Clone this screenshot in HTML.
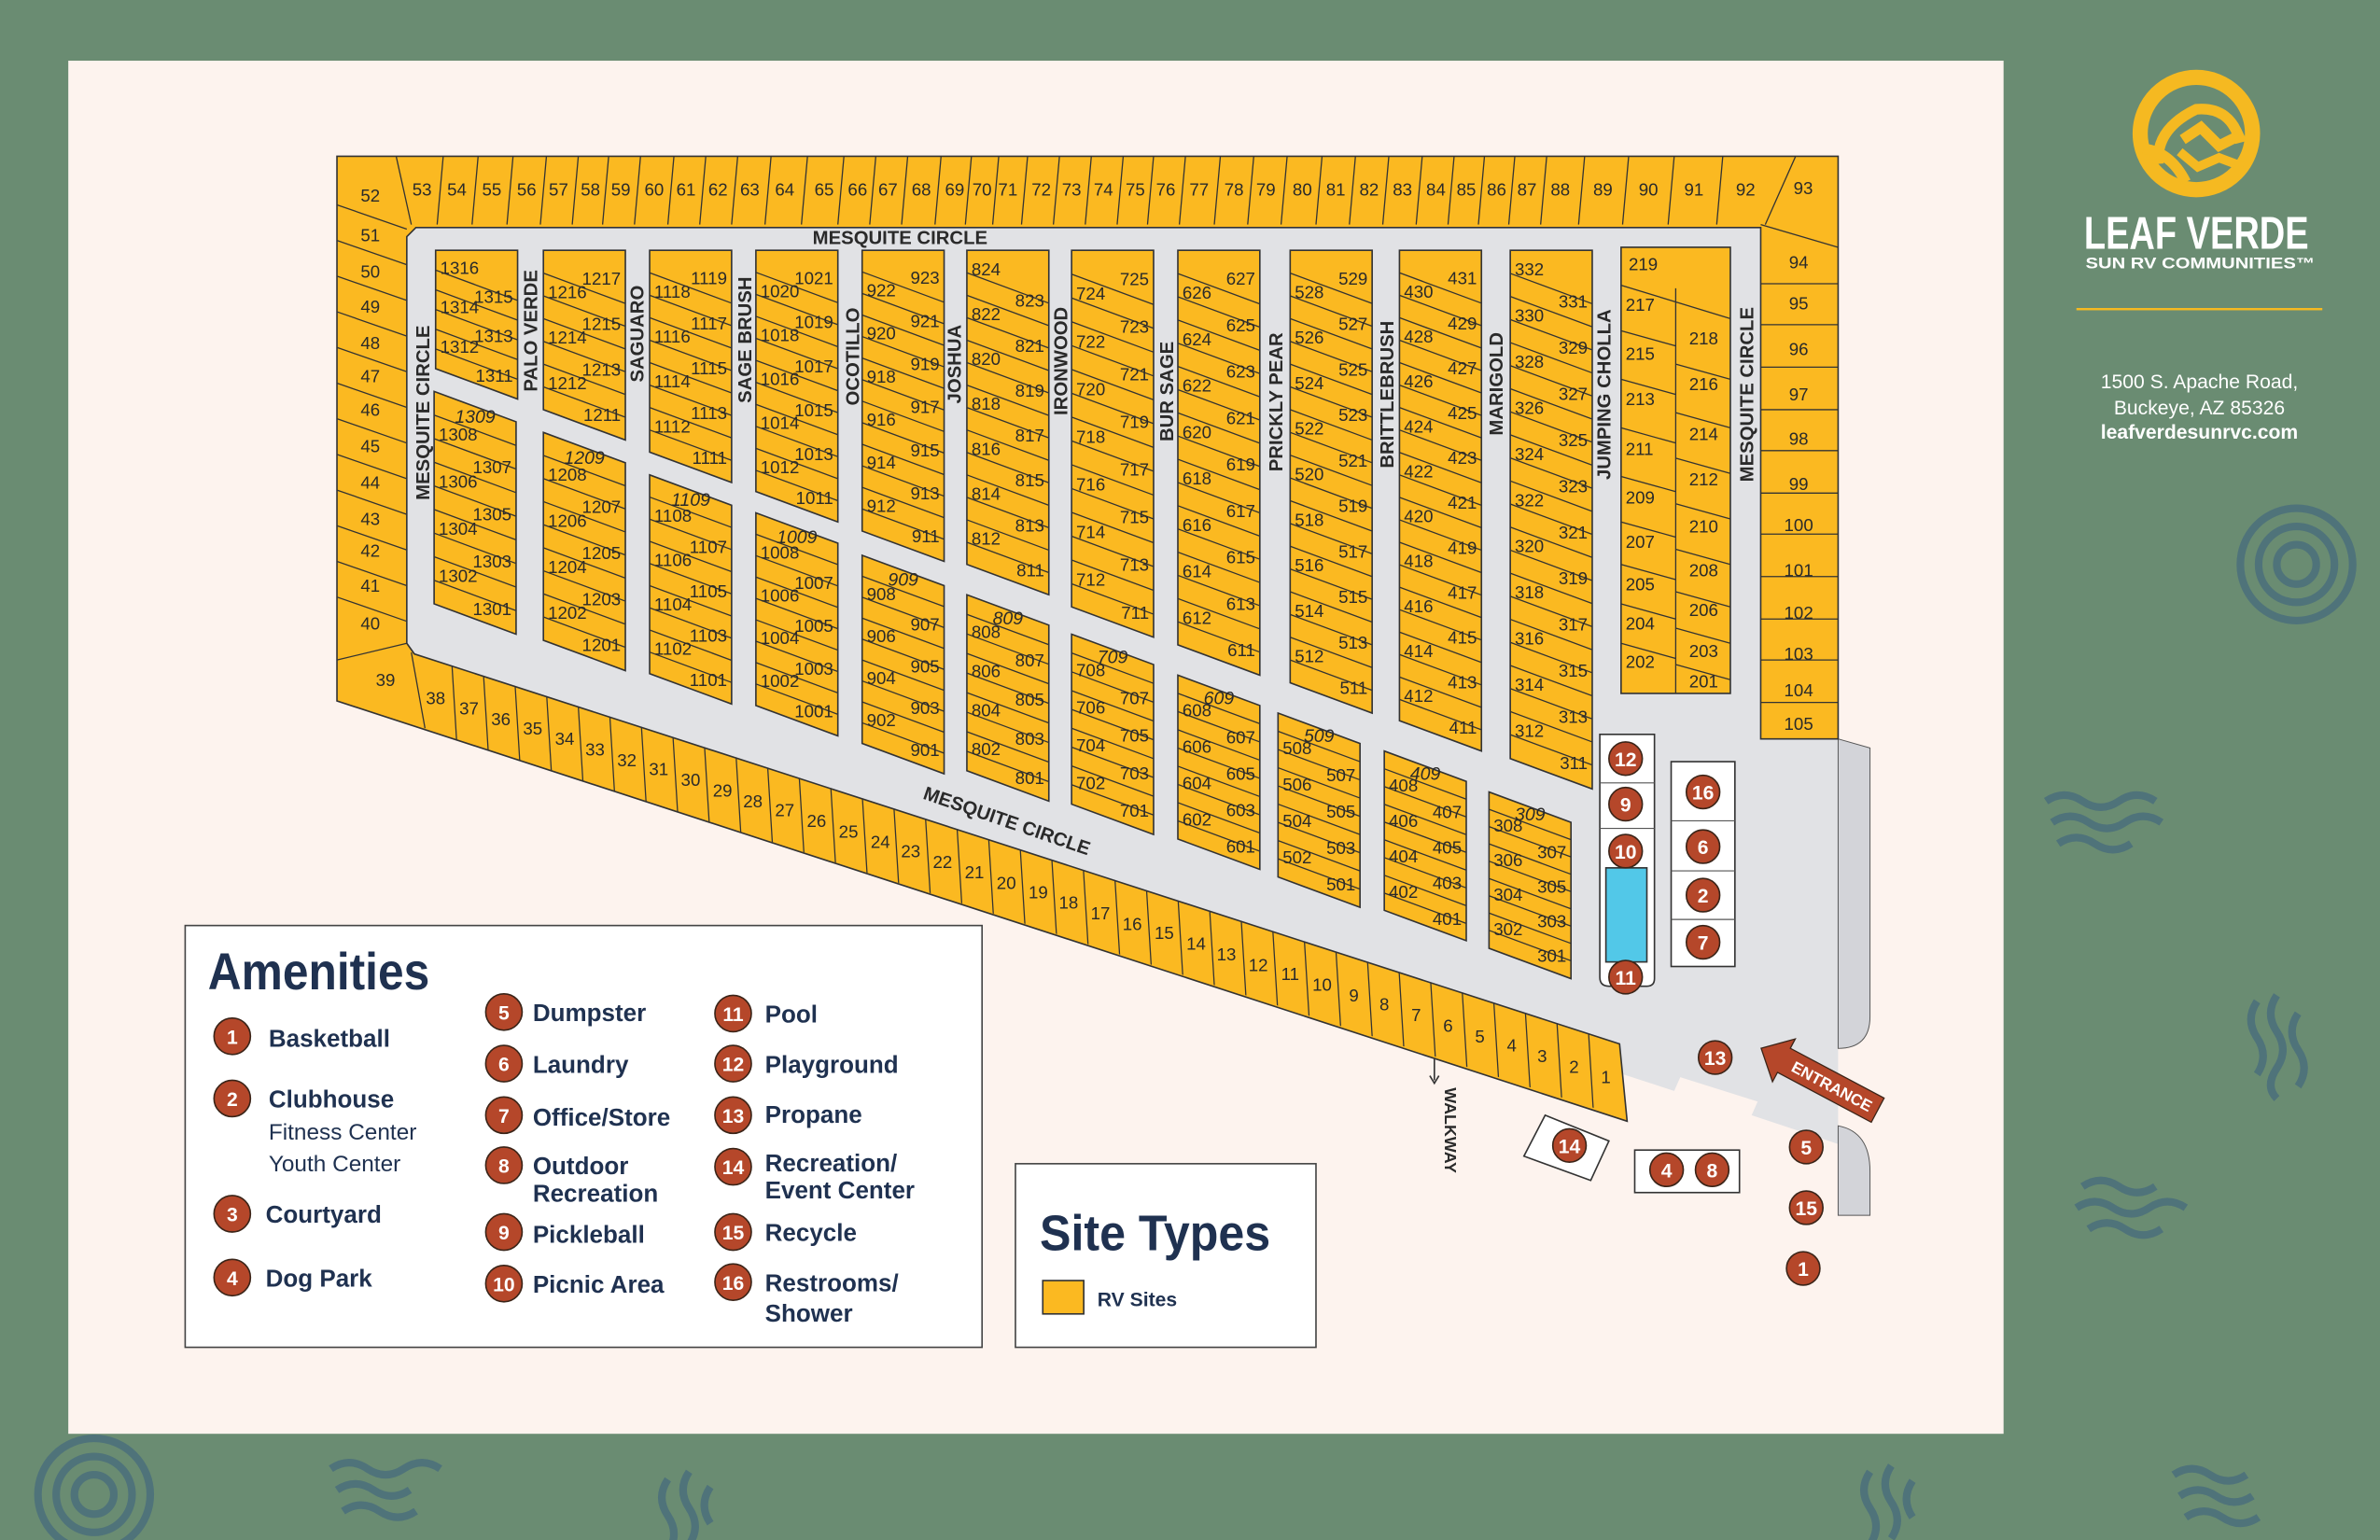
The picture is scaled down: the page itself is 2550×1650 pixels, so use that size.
<!DOCTYPE html>
<html><head><meta charset="utf-8"><style>
html,body{margin:0;padding:0;background:#6a8c72;}
svg{display:block}
.n{font-family:"Liberation Sans Narrow","Liberation Sans",sans-serif;font-size:11.5px;fill:#2a2a2a}
.r{text-anchor:end}
.c{text-anchor:middle}
.it{font-family:"Liberation Sans Narrow","Liberation Sans",sans-serif;font-size:12px;font-style:italic;fill:#2a2a2a;text-anchor:middle}
.b{fill:#fbb921;stroke:#333;stroke-width:1}
.l{fill:none;stroke:#333;stroke-width:0.8}
.st{font-family:"Liberation Sans",sans-serif;font-weight:bold;font-size:12.5px;fill:#2a2a2a;text-anchor:middle}
.ci{fill:#b5472a;stroke:#3a2418;stroke-width:1}
.cn{font-family:"Liberation Sans",sans-serif;font-weight:bold;font-size:13px;fill:#fff;text-anchor:middle}
.lg{font-family:"Liberation Sans",sans-serif;font-weight:bold;font-size:16px;fill:#1f3150}
.lgs{font-family:"Liberation Sans",sans-serif;font-size:15px;fill:#1f3150}
.dec{fill:none;stroke:#4f737a;stroke-width:5}
</style></head><body>
<svg width="2550" height="1650" viewBox="0 0 1568 1015" preserveAspectRatio="none" xmlns="http://www.w3.org/2000/svg">
<rect width="1568" height="1015" fill="#6a8c72"/>
<!-- decorations -->
<g class="dec">
<circle cx="1513" cy="372" r="37"/><circle cx="1513" cy="372" r="25"/><circle cx="1513" cy="372" r="13"/>
<circle cx="62" cy="985" r="37"/><circle cx="62" cy="985" r="25"/><circle cx="62" cy="985" r="13"/>
<path d="M1348,528 q12,-8 24,0 t24,0 t24,0 M1352,542 q12,-8 24,0 t24,0 t24,0 M1356,556 q12,-8 24,0 t24,0"/>
<path d="M1487,660 q-8,12 0,24 t0,24 M1500,656 q-8,12 0,24 t0,24 t0,20 M1514,668 q-8,12 0,24 t0,24"/>
<path d="M1372,782 q12,-8 24,0 t24,0 M1368,796 q12,-8 24,0 t24,0 t24,0 M1376,810 q12,-8 24,0 t24,0"/>
<path d="M1432,972 q12,-8 24,0 t24,0 M1436,986 q12,-8 24,0 t24,0 M1440,1000 q12,-8 24,0 t24,0"/>
<path d="M218,968 q12,-8 24,0 t24,0 t24,0 M222,982 q12,-8 24,0 t24,0 M226,996 q12,-8 24,0 t24,0"/>
<path d="M440,975 q-8,12 0,24 t0,24 M454,970 q-8,12 0,24 t0,24 M468,980 q-8,12 0,24"/>
<path d="M1232,970 q-8,12 0,24 t0,24 M1246,966 q-8,12 0,24 t0,24 M1260,976 q-8,12 0,24"/>
</g>
<rect x="45" y="40" width="1275" height="905" fill="#fdf3ee"/>

<!-- road -->
<path d="M268,148H1160V487H1211V754L1154,735L1158,726L1107,710L1103,719L1069,708L1067,688L271,430L268,424Z" fill="#e1e2e5"/>
<path d="M1211,487L1232,493V670Q1232,691 1211,691Z M1211,742Q1232,746 1232,772V801H1211Z" fill="#d3d4d9" stroke="#555" stroke-width="0.6"/>

<!-- outer ring -->
<path class="b" d="M222,103H1211V487H1160V150H274L268,156V424L273,431L1067,688L1072,739L222,462Z"/>
<!-- top row separators -->
<path class="l" d="M261,103L271,148 M292,103l-4,45 M315,103l-4,45 M338,103l-4,45 M360,103l-4,45 M381,103l-4,45 M401,103l-4,45 M422,103l-4,45 M444,103l-4,45 M465,103l-4,45 M486,103l-4,45 M508,103l-4,45 M532,103l-4,45 M556,103l-4,45 M577,103l-4,45 M598,103l-4,45 M620,103l-4,45 M640,103l-4,45 M658,103l-4,45 M677,103l-4,45 M698,103l-4,45 M719,103l-4,45 M740,103l-4,45 M760,103l-4,45 M781,103l-4,45 M804,103l-4,45 M826,103l-4,45 M848,103l-4,45 M871,103l-4,45 M893,103l-4,45 M915,103l-4,45 M937,103l-4,45 M958,103l-4,45 M978,103l-4,45 M998,103l-4,45 M1019,103l-4,45 M1044,103l-4,45 M1073,103l-4,45 M1103,103l-4,45 M1135,103l-4,45 M1183,103L1163,148 M1160,148L1211,163"/>
<!-- left col separators -->
<path class="l" d="M222,135l46,16m-46,7.5l46,16m-46,7.5l46,16m-46,7.5l46,16m-46,7.5l46,16m-46,7.5l46,16m-46,7.5l46,16m-46,7.5l46,16m-46,7.5l46,16m-46,7.5l46,16m-46,7.5l46,16m-46,7.5l46,16 M222,435L268,424 M271,430L280,480"/>
<!-- right col separators -->
<path class="l" d="M1160,187H1211M1160,214H1211M1160,242H1211M1160,270H1211M1160,297H1211M1160,325H1211M1160,352H1211M1160,380H1211M1160,408H1211M1160,435H1211M1160,463H1211"/>
<!-- bottom band separators -->
<g transform="matrix(1,0.3238,0,1,277,431.9)"><path class="l" d="M20.8,0l3,48m17.8,-48l3,48m17.8,-48l3,48m17.8,-48l3,48m17.8,-48l3,48m17.8,-48l3,48m17.8,-48l3,48m17.8,-48l3,48m17.8,-48l3,48m17.8,-48l3,48m17.8,-48l3,48m17.8,-48l3,48m17.8,-48l3,48m17.8,-48l3,48m17.8,-48l3,48m17.8,-48l3,48m17.8,-48l3,48m17.8,-48l3,48m17.8,-48l3,48m17.8,-48l3,48m17.8,-48l3,48m17.8,-48l3,48m17.8,-48l3,48m17.8,-48l3,48m17.8,-48l3,48m17.8,-48l3,48m17.8,-48l3,48m17.8,-48l3,48m17.8,-48l3,48m17.8,-48l3,48m17.8,-48l3,48m17.8,-48l3,48m17.8,-48l3,48m17.8,-48l3,48m17.8,-48l3,48m17.8,-48l3,48m17.8,-48l3,48"/></g>

<!-- ring labels -->
<g class="n c">
<text x="278" y="129">53</text><text x="301" y="129">54</text><text x="324" y="129">55</text><text x="347" y="129">56</text><text x="368" y="129">57</text><text x="389" y="129">58</text><text x="409" y="129">59</text><text x="431" y="129">60</text><text x="452" y="129">61</text><text x="473" y="129">62</text><text x="494" y="129">63</text><text x="517" y="129">64</text><text x="543" y="129">65</text><text x="565" y="129">66</text><text x="585" y="129">67</text><text x="607" y="129">68</text><text x="629" y="129">69</text><text x="647" y="129">70</text><text x="664" y="129">71</text><text x="686" y="129">72</text><text x="706" y="129">73</text><text x="727" y="129">74</text><text x="748" y="129">75</text><text x="768" y="129">76</text><text x="790" y="129">77</text><text x="813" y="129">78</text><text x="834" y="129">79</text><text x="858" y="129">80</text><text x="880" y="129">81</text><text x="902" y="129">82</text><text x="924" y="129">83</text><text x="946" y="129">84</text><text x="966" y="129">85</text><text x="986" y="129">86</text><text x="1006" y="129">87</text><text x="1028" y="129">88</text><text x="1056" y="129">89</text><text x="1086" y="129">90</text><text x="1116" y="129">91</text><text x="1150" y="129">92</text><text x="1188" y="128">93</text>
<text x="244" y="133">52</text><text x="244" y="159">51</text><text x="244" y="183">50</text><text x="244" y="206">49</text><text x="244" y="230">48</text><text x="244" y="252">47</text><text x="244" y="274">46</text><text x="244" y="298">45</text><text x="244" y="322">44</text><text x="244" y="346">43</text><text x="244" y="367">42</text><text x="244" y="390">41</text><text x="244" y="415">40</text><text x="254" y="452">39</text>
<text x="1185" y="177">94</text><text x="1185" y="204">95</text><text x="1185" y="234">96</text><text x="1185" y="264">97</text><text x="1185" y="293">98</text><text x="1185" y="323">99</text><text x="1185" y="350">100</text><text x="1185" y="380">101</text><text x="1185" y="408">102</text><text x="1185" y="435">103</text><text x="1185" y="459">104</text><text x="1185" y="481">105</text>
<text x="287" y="464">38</text><text x="309" y="471">37</text><text x="330" y="478">36</text><text x="351" y="484">35</text><text x="372" y="491">34</text><text x="392" y="498">33</text><text x="413" y="505">32</text><text x="434" y="511">31</text><text x="455" y="518">30</text><text x="476" y="525">29</text><text x="496" y="532">28</text><text x="517" y="538">27</text><text x="538" y="545">26</text><text x="559" y="552">25</text><text x="580" y="559">24</text><text x="600" y="565">23</text><text x="621" y="572">22</text><text x="642" y="579">21</text><text x="663" y="586">20</text><text x="684" y="592">19</text><text x="704" y="599">18</text><text x="725" y="606">17</text><text x="746" y="613">16</text><text x="767" y="619">15</text><text x="788" y="626">14</text><text x="808" y="633">13</text><text x="829" y="640">12</text><text x="850" y="646">11</text><text x="871" y="653">10</text><text x="892" y="660">9</text><text x="912" y="666">8</text><text x="933" y="673">7</text><text x="954" y="680">6</text><text x="975" y="687">5</text><text x="996" y="693">4</text><text x="1016" y="700">3</text><text x="1037" y="707">2</text><text x="1058" y="714">1</text>
</g>

<!-- UPPER BLOCKS -->
<g transform="translate(287,165)"><path class="b" d="M0,0H54V98L0,78Z"/><path class="l" d="M0,13l54,20m-54,-7l54,20m-54,-7l54,20m-54,-7l54,20m-54,-7l54,20"/>
<text class="n" x="3" y="15.5">1316</text><text class="n r" x="51" y="34.5">1315</text><text class="n" x="3" y="41.5">1314</text><text class="n r" x="51" y="60.5">1313</text><text class="n" x="3" y="67.5">1312</text><text class="n r" x="51" y="86.5">1311</text></g>
<g transform="translate(358,165)"><path class="b" d="M0,0H54V125L0,105Z"/><path class="l" d="M0,15l54,20m-54,-5l54,20m-54,-5l54,20m-54,-5l54,20m-54,-5l54,20m-54,-5l54,20"/>
<text class="n r" x="51" y="22.5">1217</text><text class="n" x="3" y="31.5">1216</text><text class="n r" x="51" y="52.5">1215</text><text class="n" x="3" y="61.5">1214</text><text class="n r" x="51" y="82.5">1213</text><text class="n" x="3" y="91.5">1212</text><text class="n r" x="51" y="112.5">1211</text></g>
<g transform="translate(428,165)"><path class="b" d="M0,0H54V153L0,133Z"/><path class="l" d="M0,14.8l54,20m-54,-5.2l54,20m-54,-5.2l54,20m-54,-5.2l54,20m-54,-5.2l54,20m-54,-5.2l54,20m-54,-5.2l54,20m-54,-5.2l54,20"/>
<text class="n r" x="51" y="22.4">1119</text><text class="n" x="3" y="31.2">1118</text><text class="n r" x="51" y="52">1117</text><text class="n" x="3" y="60.8">1116</text><text class="n r" x="51" y="81.6">1115</text><text class="n" x="3" y="90.4">1114</text><text class="n r" x="51" y="111.2">1113</text><text class="n" x="3" y="120">1112</text><text class="n r" x="51" y="140.8">1111</text></g>
<g transform="translate(498,165)"><path class="b" d="M0,0H54V179L0,159Z"/><path class="l" d="M0,14.5l54,20m-54,-5.5l54,20m-54,-5.5l54,20m-54,-5.5l54,20m-54,-5.5l54,20m-54,-5.5l54,20m-54,-5.5l54,20m-54,-5.5l54,20m-54,-5.5l54,20m-54,-5.5l54,20"/>
<text class="n r" x="51" y="22.3">1021</text><text class="n" x="3" y="30.8">1020</text><text class="n r" x="51" y="51.3">1019</text><text class="n" x="3" y="59.8">1018</text><text class="n r" x="51" y="80.3">1017</text><text class="n" x="3" y="88.8">1016</text><text class="n r" x="51" y="109.3">1015</text><text class="n" x="3" y="117.8">1014</text><text class="n r" x="51" y="138.3">1013</text><text class="n" x="3" y="146.8">1012</text><text class="n r" x="51" y="167.3">1011</text></g>
<g transform="translate(568,165)"><path class="b" d="M0,0H54V205L0,185Z"/><path class="l" d="M0,14.2l54,20m-54,-5.8l54,20m-54,-5.8l54,20m-54,-5.8l54,20m-54,-5.8l54,20m-54,-5.8l54,20m-54,-5.8l54,20m-54,-5.8l54,20m-54,-5.8l54,20m-54,-5.8l54,20m-54,-5.8l54,20m-54,-5.8l54,20"/>
<text class="n r" x="51" y="22.1">923</text><text class="n" x="3" y="30.3">922</text><text class="n r" x="51" y="50.5">921</text><text class="n" x="3" y="58.7">920</text><text class="n r" x="51" y="78.9">919</text><text class="n" x="3" y="87.1">918</text><text class="n r" x="51" y="107.3">917</text><text class="n" x="3" y="115.5">916</text><text class="n r" x="51" y="135.7">915</text><text class="n" x="3" y="143.9">914</text><text class="n r" x="51" y="164.1">913</text><text class="n" x="3" y="172.3">912</text><text class="n r" x="51" y="192.5">911</text></g>
<g transform="translate(637,165)"><path class="b" d="M0,0H54V227L0,207Z"/><path class="l" d="M0,14.8l54,20m-54,-5.2l54,20m-54,-5.2l54,20m-54,-5.2l54,20m-54,-5.2l54,20m-54,-5.2l54,20m-54,-5.2l54,20m-54,-5.2l54,20m-54,-5.2l54,20m-54,-5.2l54,20m-54,-5.2l54,20m-54,-5.2l54,20m-54,-5.2l54,20"/>
<text class="n" x="3" y="16.4">824</text><text class="n r" x="51" y="37.2">823</text><text class="n" x="3" y="46">822</text><text class="n r" x="51" y="66.8">821</text><text class="n" x="3" y="75.6">820</text><text class="n r" x="51" y="96.4">819</text><text class="n" x="3" y="105.2">818</text><text class="n r" x="51" y="126">817</text><text class="n" x="3" y="134.8">816</text><text class="n r" x="51" y="155.6">815</text><text class="n" x="3" y="164.4">814</text><text class="n r" x="51" y="185.2">813</text><text class="n" x="3" y="194">812</text><text class="n r" x="51" y="214.8">811</text></g>
<g transform="translate(706,165)"><path class="b" d="M0,0H54V255L0,235Z"/><path class="l" d="M0,15.7l54,20m-54,-4.3l54,20m-54,-4.3l54,20m-54,-4.3l54,20m-54,-4.3l54,20m-54,-4.3l54,20m-54,-4.3l54,20m-54,-4.3l54,20m-54,-4.3l54,20m-54,-4.3l54,20m-54,-4.3l54,20m-54,-4.3l54,20m-54,-4.3l54,20m-54,-4.3l54,20"/>
<text class="n r" x="51" y="22.9">725</text><text class="n" x="3" y="32.6">724</text><text class="n r" x="51" y="54.3">723</text><text class="n" x="3" y="64">722</text><text class="n r" x="51" y="85.7">721</text><text class="n" x="3" y="95.4">720</text><text class="n r" x="51" y="117.1">719</text><text class="n" x="3" y="126.8">718</text><text class="n r" x="51" y="148.5">717</text><text class="n" x="3" y="158.2">716</text><text class="n r" x="51" y="179.9">715</text><text class="n" x="3" y="189.6">714</text><text class="n r" x="51" y="211.3">713</text><text class="n" x="3" y="221">712</text><text class="n r" x="51" y="242.7">711</text></g>
<g transform="translate(776,165)"><path class="b" d="M0,0H54V280L0,260Z"/><path class="l" d="M0,15.3l54,20m-54,-4.7l54,20m-54,-4.7l54,20m-54,-4.7l54,20m-54,-4.7l54,20m-54,-4.7l54,20m-54,-4.7l54,20m-54,-4.7l54,20m-54,-4.7l54,20m-54,-4.7l54,20m-54,-4.7l54,20m-54,-4.7l54,20m-54,-4.7l54,20m-54,-4.7l54,20m-54,-4.7l54,20m-54,-4.7l54,20"/>
<text class="n r" x="51" y="22.7">627</text><text class="n" x="3" y="32">626</text><text class="n r" x="51" y="53.3">625</text><text class="n" x="3" y="62.6">624</text><text class="n r" x="51" y="83.9">623</text><text class="n" x="3" y="93.2">622</text><text class="n r" x="51" y="114.5">621</text><text class="n" x="3" y="123.8">620</text><text class="n r" x="51" y="145.1">619</text><text class="n" x="3" y="154.4">618</text><text class="n r" x="51" y="175.7">617</text><text class="n" x="3" y="185">616</text><text class="n r" x="51" y="206.3">615</text><text class="n" x="3" y="215.6">614</text><text class="n r" x="51" y="236.9">613</text><text class="n" x="3" y="246.2">612</text><text class="n r" x="51" y="267.5">611</text></g>
<g transform="translate(850,165)"><path class="b" d="M0,0H54V305L0,285Z"/><path class="l" d="M0,15l54,20m-54,-5l54,20m-54,-5l54,20m-54,-5l54,20m-54,-5l54,20m-54,-5l54,20m-54,-5l54,20m-54,-5l54,20m-54,-5l54,20m-54,-5l54,20m-54,-5l54,20m-54,-5l54,20m-54,-5l54,20m-54,-5l54,20m-54,-5l54,20m-54,-5l54,20m-54,-5l54,20m-54,-5l54,20"/>
<text class="n r" x="51" y="22.5">529</text><text class="n" x="3" y="31.5">528</text><text class="n r" x="51" y="52.5">527</text><text class="n" x="3" y="61.5">526</text><text class="n r" x="51" y="82.5">525</text><text class="n" x="3" y="91.5">524</text><text class="n r" x="51" y="112.5">523</text><text class="n" x="3" y="121.5">522</text><text class="n r" x="51" y="142.5">521</text><text class="n" x="3" y="151.5">520</text><text class="n r" x="51" y="172.5">519</text><text class="n" x="3" y="181.5">518</text><text class="n r" x="51" y="202.5">517</text><text class="n" x="3" y="211.5">516</text><text class="n r" x="51" y="232.5">515</text><text class="n" x="3" y="241.5">514</text><text class="n r" x="51" y="262.5">513</text><text class="n" x="3" y="271.5">512</text><text class="n r" x="51" y="292.5">511</text></g>
<g transform="translate(922,165)"><path class="b" d="M0,0H54V330L0,310Z"/><path class="l" d="M0,14.8l54,20m-54,-5.2l54,20m-54,-5.2l54,20m-54,-5.2l54,20m-54,-5.2l54,20m-54,-5.2l54,20m-54,-5.2l54,20m-54,-5.2l54,20m-54,-5.2l54,20m-54,-5.2l54,20m-54,-5.2l54,20m-54,-5.2l54,20m-54,-5.2l54,20m-54,-5.2l54,20m-54,-5.2l54,20m-54,-5.2l54,20m-54,-5.2l54,20m-54,-5.2l54,20m-54,-5.2l54,20m-54,-5.2l54,20"/>
<text class="n r" x="51" y="22.4">431</text><text class="n" x="3" y="31.2">430</text><text class="n r" x="51" y="52">429</text><text class="n" x="3" y="60.8">428</text><text class="n r" x="51" y="81.6">427</text><text class="n" x="3" y="90.4">426</text><text class="n r" x="51" y="111.2">425</text><text class="n" x="3" y="120">424</text><text class="n r" x="51" y="140.8">423</text><text class="n" x="3" y="149.6">422</text><text class="n r" x="51" y="170.4">421</text><text class="n" x="3" y="179.2">420</text><text class="n r" x="51" y="200">419</text><text class="n" x="3" y="208.8">418</text><text class="n r" x="51" y="229.6">417</text><text class="n" x="3" y="238.4">416</text><text class="n r" x="51" y="259.2">415</text><text class="n" x="3" y="268">414</text><text class="n r" x="51" y="288.8">413</text><text class="n" x="3" y="297.6">412</text><text class="n r" x="51" y="318.4">411</text></g>
<g transform="translate(995,165)"><path class="b" d="M0,0H54V355L0,335Z"/><path class="l" d="M0,15.2l54,20m-54,-4.8l54,20m-54,-4.8l54,20m-54,-4.8l54,20m-54,-4.8l54,20m-54,-4.8l54,20m-54,-4.8l54,20m-54,-4.8l54,20m-54,-4.8l54,20m-54,-4.8l54,20m-54,-4.8l54,20m-54,-4.8l54,20m-54,-4.8l54,20m-54,-4.8l54,20m-54,-4.8l54,20m-54,-4.8l54,20m-54,-4.8l54,20m-54,-4.8l54,20m-54,-4.8l54,20m-54,-4.8l54,20m-54,-4.8l54,20"/>
<text class="n" x="3" y="16.6">332</text><text class="n r" x="51" y="37.8">331</text><text class="n" x="3" y="47">330</text><text class="n r" x="51" y="68.2">329</text><text class="n" x="3" y="77.4">328</text><text class="n r" x="51" y="98.6">327</text><text class="n" x="3" y="107.8">326</text><text class="n r" x="51" y="129">325</text><text class="n" x="3" y="138.2">324</text><text class="n r" x="51" y="159.4">323</text><text class="n" x="3" y="168.6">322</text><text class="n r" x="51" y="189.8">321</text><text class="n" x="3" y="199">320</text><text class="n r" x="51" y="220.2">319</text><text class="n" x="3" y="229.4">318</text><text class="n r" x="51" y="250.6">317</text><text class="n" x="3" y="259.8">316</text><text class="n r" x="51" y="281">315</text><text class="n" x="3" y="290.2">314</text><text class="n r" x="51" y="311.4">313</text><text class="n" x="3" y="320.6">312</text><text class="n r" x="51" y="341.8">311</text></g>

<!-- LOWER BLOCKS -->
<g transform="translate(286,258)"><path class="b" d="M0,0L54,20V160L0,140Z"/><path class="l" d="M0,15.56l54,20m-54,-4.44l54,20m-54,-4.44l54,20m-54,-4.44l54,20m-54,-4.44l54,20m-54,-4.44l54,20m-54,-4.44l54,20m-54,-4.44l54,20"/>
<text class="it" x="27" y="20.8">1309</text><text class="n" x="3" y="32.3">1308</text><text class="n r" x="51" y="53.9">1307</text><text class="n" x="3" y="63.5">1306</text><text class="n r" x="51" y="85">1305</text><text class="n" x="3" y="94.6">1304</text><text class="n r" x="51" y="116.1">1303</text><text class="n" x="3" y="125.7">1302</text><text class="n r" x="51" y="147.3">1301</text></g>
<g transform="translate(358,285)"><path class="b" d="M0,0L54,20V157L0,137Z"/><path class="l" d="M0,15.2l54,20m-54,-4.8l54,20m-54,-4.8l54,20m-54,-4.8l54,20m-54,-4.8l54,20m-54,-4.8l54,20m-54,-4.8l54,20m-54,-4.8l54,20"/>
<text class="it" x="27" y="20.6">1209</text><text class="n" x="3" y="31.8">1208</text><text class="n r" x="51" y="53">1207</text><text class="n" x="3" y="62.2">1206</text><text class="n r" x="51" y="83.4">1205</text><text class="n" x="3" y="92.6">1204</text><text class="n r" x="51" y="113.8">1203</text><text class="n" x="3" y="123">1202</text><text class="n r" x="51" y="144.2">1201</text></g>
<g transform="translate(428,313)"><path class="b" d="M0,0L54,20V151L0,131Z"/><path class="l" d="M0,14.6l54,20m-54,-5.4l54,20m-54,-5.4l54,20m-54,-5.4l54,20m-54,-5.4l54,20m-54,-5.4l54,20m-54,-5.4l54,20m-54,-5.4l54,20"/>
<text class="it" x="27" y="20.3">1109</text><text class="n" x="3" y="30.9">1108</text><text class="n r" x="51" y="51.5">1107</text><text class="n" x="3" y="60.1">1106</text><text class="n r" x="51" y="80.7">1105</text><text class="n" x="3" y="89.3">1104</text><text class="n r" x="51" y="109.9">1103</text><text class="n" x="3" y="118.5">1102</text><text class="n r" x="51" y="139.1">1101</text></g>
<g transform="translate(498,338)"><path class="b" d="M0,0L54,20V147L0,127Z"/><path class="l" d="M0,14.1l54,20m-54,-5.9l54,20m-54,-5.9l54,20m-54,-5.9l54,20m-54,-5.9l54,20m-54,-5.9l54,20m-54,-5.9l54,20m-54,-5.9l54,20"/>
<text class="it" x="27" y="20">1009</text><text class="n" x="3" y="30.2">1008</text><text class="n r" x="51" y="50.3">1007</text><text class="n" x="3" y="58.4">1006</text><text class="n r" x="51" y="78.5">1005</text><text class="n" x="3" y="86.6">1004</text><text class="n r" x="51" y="106.7">1003</text><text class="n" x="3" y="114.8">1002</text><text class="n r" x="51" y="134.9">1001</text></g>
<g transform="translate(568,366)"><path class="b" d="M0,0L54,20V144L0,124Z"/><path class="l" d="M0,13.8l54,20m-54,-6.2l54,20m-54,-6.2l54,20m-54,-6.2l54,20m-54,-6.2l54,20m-54,-6.2l54,20m-54,-6.2l54,20m-54,-6.2l54,20"/>
<text class="it" x="27" y="19.9">909</text><text class="n" x="3" y="29.7">908</text><text class="n r" x="51" y="49.5">907</text><text class="n" x="3" y="57.3">906</text><text class="n r" x="51" y="77.1">905</text><text class="n" x="3" y="84.9">904</text><text class="n r" x="51" y="104.7">903</text><text class="n" x="3" y="112.5">902</text><text class="n r" x="51" y="132.3">901</text></g>
<g transform="translate(637,392)"><path class="b" d="M0,0L54,20V136L0,116Z"/><path class="l" d="M0,12.9l54,20m-54,-7.1l54,20m-54,-7.1l54,20m-54,-7.1l54,20m-54,-7.1l54,20m-54,-7.1l54,20m-54,-7.1l54,20m-54,-7.1l54,20"/>
<text class="it" x="27" y="19.5">809</text><text class="n" x="3" y="28.4">808</text><text class="n r" x="51" y="47.3">807</text><text class="n" x="3" y="54.2">806</text><text class="n r" x="51" y="73.1">805</text><text class="n" x="3" y="80">804</text><text class="n r" x="51" y="98.9">803</text><text class="n" x="3" y="105.8">802</text><text class="n r" x="51" y="124.7">801</text></g>
<g transform="translate(706,418)"><path class="b" d="M0,0L54,20V132L0,112Z"/><path class="l" d="M0,12.4l54,20m-54,-7.6l54,20m-54,-7.6l54,20m-54,-7.6l54,20m-54,-7.6l54,20m-54,-7.6l54,20m-54,-7.6l54,20m-54,-7.6l54,20"/>
<text class="it" x="27" y="19.2">709</text><text class="n" x="3" y="27.6">708</text><text class="n r" x="51" y="46">707</text><text class="n" x="3" y="52.4">706</text><text class="n r" x="51" y="70.8">705</text><text class="n" x="3" y="77.2">704</text><text class="n r" x="51" y="95.6">703</text><text class="n" x="3" y="102">702</text><text class="n r" x="51" y="120.4">701</text></g>
<g transform="translate(776,445)"><path class="b" d="M0,0L54,20V128L0,108Z"/><path class="l" d="M0,12l54,20m-54,-8l54,20m-54,-8l54,20m-54,-8l54,20m-54,-8l54,20m-54,-8l54,20m-54,-8l54,20m-54,-8l54,20"/>
<text class="it" x="27" y="19">609</text><text class="n" x="3" y="27">608</text><text class="n r" x="51" y="45">607</text><text class="n" x="3" y="51">606</text><text class="n r" x="51" y="69">605</text><text class="n" x="3" y="75">604</text><text class="n r" x="51" y="93">603</text><text class="n" x="3" y="99">602</text><text class="n r" x="51" y="117">601</text></g>
<g transform="translate(842,470)"><path class="b" d="M0,0L54,20V128L0,108Z"/><path class="l" d="M0,12l54,20m-54,-8l54,20m-54,-8l54,20m-54,-8l54,20m-54,-8l54,20m-54,-8l54,20m-54,-8l54,20m-54,-8l54,20"/>
<text class="it" x="27" y="19">509</text><text class="n" x="3" y="27">508</text><text class="n r" x="51" y="45">507</text><text class="n" x="3" y="51">506</text><text class="n r" x="51" y="69">505</text><text class="n" x="3" y="75">504</text><text class="n r" x="51" y="93">503</text><text class="n" x="3" y="99">502</text><text class="n r" x="51" y="117">501</text></g>
<g transform="translate(912,495)"><path class="b" d="M0,0L54,20V125L0,105Z"/><path class="l" d="M0,11.7l54,20m-54,-8.3l54,20m-54,-8.3l54,20m-54,-8.3l54,20m-54,-8.3l54,20m-54,-8.3l54,20m-54,-8.3l54,20m-54,-8.3l54,20"/>
<text class="it" x="27" y="18.9">409</text><text class="n" x="3" y="26.6">408</text><text class="n r" x="51" y="44.3">407</text><text class="n" x="3" y="50">406</text><text class="n r" x="51" y="67.7">405</text><text class="n" x="3" y="73.4">404</text><text class="n r" x="51" y="91">403</text><text class="n" x="3" y="96.8">402</text><text class="n r" x="51" y="114.5">401</text></g>
<g transform="translate(981,522)"><path class="b" d="M0,0L54,20V123L0,103Z"/><path class="l" d="M0,11.4l54,20m-54,-8.6l54,20m-54,-8.6l54,20m-54,-8.6l54,20m-54,-8.6l54,20m-54,-8.6l54,20m-54,-8.6l54,20m-54,-8.6l54,20"/>
<text class="it" x="27" y="18.7">309</text><text class="n" x="3" y="26.1">308</text><text class="n r" x="51" y="43.5">307</text><text class="n" x="3" y="48.9">306</text><text class="n r" x="51" y="66.3">305</text><text class="n" x="3" y="71.7">304</text><text class="n r" x="51" y="89.1">303</text><text class="n" x="3" y="94.5">302</text><text class="n r" x="51" y="111.9">301</text></g>

<!-- 200s block -->
<path class="b" d="M1068,163H1140V457H1068Z"/>
<path class="l" d="M1104,190V457 M1068,188L1140,210 M1068,218l36,10 M1068,250l36,10 M1068,282l36,10 M1068,314l36,10 M1068,344l36,10 M1068,372l36,10 M1068,398l36,10 M1068,424l36,10 M1104,240l36,10 M1104,272l36,10 M1104,302l36,10 M1104,332l36,10 M1104,362l36,10 M1104,390l36,10 M1104,414l36,10 M1104,438l36,10"/>
<g class="n"><text x="1073" y="178">219</text><text x="1071" y="205">217</text><text x="1071" y="237">215</text><text x="1071" y="267">213</text><text x="1071" y="300">211</text><text x="1071" y="332">209</text><text x="1071" y="361">207</text><text x="1071" y="389">205</text><text x="1071" y="415">204</text><text x="1071" y="440">202</text></g>
<g class="n r"><text x="1132" y="227">218</text><text x="1132" y="257">216</text><text x="1132" y="290">214</text><text x="1132" y="320">212</text><text x="1132" y="351">210</text><text x="1132" y="380">208</text><text x="1132" y="406">206</text><text x="1132" y="433">203</text><text x="1132" y="453">201</text></g>

<!-- street names -->
<text class="st" x="593" y="161">MESQUITE CIRCLE</text>
<text class="st" transform="translate(283,272) rotate(-90)">MESQUITE CIRCLE</text>
<text class="st" transform="translate(354,218) rotate(-90)">PALO VERDE</text>
<text class="st" transform="translate(424,220) rotate(-90)">SAGUARO</text>
<text class="st" transform="translate(495,224) rotate(-90)">SAGE BRUSH</text>
<text class="st" transform="translate(566,235) rotate(-90)">OCOTILLO</text>
<text class="st" transform="translate(633,240) rotate(-90)">JOSHUA</text>
<text class="st" transform="translate(703,238) rotate(-90)">IRONWOOD</text>
<text class="st" transform="translate(773,258) rotate(-90)">BUR SAGE</text>
<text class="st" transform="translate(845,265) rotate(-90)">PRICKLY PEAR</text>
<text class="st" transform="translate(918,260) rotate(-90)">BRITTLEBRUSH</text>
<text class="st" transform="translate(990,253) rotate(-90)">MARIGOLD</text>
<text class="st" transform="translate(1061,260) rotate(-90)">JUMPING CHOLLA</text>
<text class="st" transform="translate(1155,260) rotate(-90)">MESQUITE CIRCLE</text>
<text class="st" transform="translate(662,545) rotate(19)">MESQUITE CIRCLE</text>
<text class="st" style="font-size:11px" transform="translate(952,745) rotate(90)">WALKWAY</text>
<path d="M945,698V712" stroke="#333" stroke-width="1"/><path d="M942,709L945,714L948,709" fill="none" stroke="#333"/>

<!-- amenity boxes -->
<path d="M1054,484H1090V645Q1090,650 1085,650H1060Q1054,650 1054,644Z" fill="#fff" stroke="#333"/>
<path d="M1054,516H1090M1054,546H1090" stroke="#555" stroke-width="0.7"/>
<rect x="1058" y="572" width="27" height="62" fill="#52c8e8" stroke="#333"/>
<rect x="1101" y="502" width="42" height="135" fill="#fff" stroke="#333"/>
<path d="M1101,541H1143M1101,574H1143M1101,606H1143" stroke="#555" stroke-width="0.7"/>
<path d="M1018,735L1060,752L1048,778L1004,762Z" fill="#fff" stroke="#333"/>
<rect x="1077" y="758" width="69" height="28" fill="#fff" stroke="#333"/>
<g>
<circle class="ci" cx="1071" cy="500" r="11"/><text class="cn" x="1071" y="505">12</text>
<circle class="ci" cx="1071" cy="530" r="11"/><text class="cn" x="1071" y="535">9</text>
<circle class="ci" cx="1071" cy="561" r="11"/><text class="cn" x="1071" y="566">10</text>
<circle class="ci" cx="1071" cy="644" r="11"/><text class="cn" x="1071" y="649">11</text>
<circle class="ci" cx="1122" cy="522" r="11"/><text class="cn" x="1122" y="527">16</text>
<circle class="ci" cx="1122" cy="558" r="11"/><text class="cn" x="1122" y="563">6</text>
<circle class="ci" cx="1122" cy="590" r="11"/><text class="cn" x="1122" y="595">2</text>
<circle class="ci" cx="1122" cy="621" r="11"/><text class="cn" x="1122" y="626">7</text>
<circle class="ci" cx="1130" cy="697" r="11"/><text class="cn" x="1130" y="702">13</text>
<circle class="ci" cx="1034" cy="755" r="11"/><text class="cn" x="1034" y="760">14</text>
<circle class="ci" cx="1098" cy="771" r="11"/><text class="cn" x="1098" y="776">4</text>
<circle class="ci" cx="1128" cy="771" r="11"/><text class="cn" x="1128" y="776">8</text>
<circle class="ci" cx="1190" cy="756" r="11"/><text class="cn" x="1190" y="761">5</text>
<circle class="ci" cx="1190" cy="796" r="11"/><text class="cn" x="1190" y="801">15</text>
<circle class="ci" cx="1188" cy="836" r="11"/><text class="cn" x="1188" y="841">1</text>
</g>
<g transform="translate(1200,712) rotate(28)">
<path d="M-45,0L-28,-16V-9H42V9H-28V16Z" fill="#b5472a" stroke="#3a2418" stroke-width="0.8"/>
<text x="8" y="4" font-family="Liberation Sans,sans-serif" font-size="10.5" font-weight="bold" fill="#fff" text-anchor="middle">ENTRANCE</text>
</g>

<!-- legend -->
<rect x="122" y="610" width="525" height="278" fill="#fff" stroke="#444" stroke-width="1"/>
<text x="137" y="652" font-family="Liberation Sans Narrow,Liberation Sans,sans-serif" font-weight="bold" font-size="34" fill="#1f3150" textLength="146" lengthAdjust="spacingAndGlyphs">Amenities</text>
<g>
<circle class="ci" cx="153" cy="683" r="12"/><text class="cn" x="153" y="688">1</text><text class="lg" x="177" y="690">Basketball</text>
<circle class="ci" cx="153" cy="724" r="12"/><text class="cn" x="153" y="729">2</text><text class="lg" x="177" y="730">Clubhouse</text>
<text class="lgs" x="177" y="751">Fitness Center</text><text class="lgs" x="177" y="772">Youth Center</text>
<circle class="ci" cx="153" cy="800" r="12"/><text class="cn" x="153" y="805">3</text><text class="lg" x="175" y="806">Courtyard</text>
<circle class="ci" cx="153" cy="842" r="12"/><text class="cn" x="153" y="847">4</text><text class="lg" x="175" y="848">Dog Park</text>
<circle class="ci" cx="332" cy="667" r="12"/><text class="cn" x="332" y="672">5</text><text class="lg" x="351" y="673">Dumpster</text>
<circle class="ci" cx="332" cy="701" r="12"/><text class="cn" x="332" y="706">6</text><text class="lg" x="351" y="707">Laundry</text>
<circle class="ci" cx="332" cy="735" r="12"/><text class="cn" x="332" y="740">7</text><text class="lg" x="351" y="742">Office/Store</text>
<circle class="ci" cx="332" cy="768" r="12"/><text class="cn" x="332" y="773">8</text><text class="lg" x="351" y="774">Outdoor</text><text class="lg" x="351" y="792">Recreation</text>
<circle class="ci" cx="332" cy="812" r="12"/><text class="cn" x="332" y="817">9</text><text class="lg" x="351" y="819">Pickleball</text>
<circle class="ci" cx="332" cy="846" r="12"/><text class="cn" x="332" y="851">10</text><text class="lg" x="351" y="852">Picnic Area</text>
<circle class="ci" cx="483" cy="668" r="12"/><text class="cn" x="483" y="673">11</text><text class="lg" x="504" y="674">Pool</text>
<circle class="ci" cx="483" cy="701" r="12"/><text class="cn" x="483" y="706">12</text><text class="lg" x="504" y="707">Playground</text>
<circle class="ci" cx="483" cy="735" r="12"/><text class="cn" x="483" y="740">13</text><text class="lg" x="504" y="740">Propane</text>
<circle class="ci" cx="483" cy="769" r="12"/><text class="cn" x="483" y="774">14</text><text class="lg" x="504" y="772">Recreation/</text><text class="lg" x="504" y="790">Event Center</text>
<circle class="ci" cx="483" cy="812" r="12"/><text class="cn" x="483" y="817">15</text><text class="lg" x="504" y="818">Recycle</text>
<circle class="ci" cx="483" cy="845" r="12"/><text class="cn" x="483" y="850">16</text><text class="lg" x="504" y="851">Restrooms/</text><text class="lg" x="504" y="871">Shower</text>
</g>
<rect x="669" y="767" width="198" height="121" fill="#fff" stroke="#444" stroke-width="1"/>
<text x="685" y="824" font-family="Liberation Sans Narrow,Liberation Sans,sans-serif" font-weight="bold" font-size="33" fill="#1f3150" textLength="152" lengthAdjust="spacingAndGlyphs">Site Types</text>
<rect x="687" y="844" width="27" height="22" fill="#fbb921" stroke="#333"/>
<text x="723" y="861" font-family="Liberation Sans,sans-serif" font-weight="bold" font-size="13" fill="#1f3150">RV Sites</text>

<!-- logo -->
<circle cx="1447" cy="88" r="37" fill="none" stroke="#f5b921" stroke-width="10"/>
<path d="M1422,108 Q1420,85 1447,72 Q1470,70 1476,94" fill="none" stroke="#f5b921" stroke-width="7"/>
<path d="M1438,92 L1450,84 L1462,96 L1478,88" fill="none" stroke="#f5b921" stroke-width="7"/>
<path d="M1412,98 Q1430,100 1440,120" fill="none" stroke="#f5b921" stroke-width="7"/>
<path d="M1436,100 L1448,110 L1462,104 L1478,110" fill="none" stroke="#f5b921" stroke-width="6"/>
<text x="1373" y="164" font-family="Liberation Sans Narrow,Liberation Sans,sans-serif" font-weight="bold" font-size="30" fill="#fff" textLength="148" lengthAdjust="spacingAndGlyphs">LEAF VERDE</text>
<text x="1374" y="177" font-family="Liberation Sans,sans-serif" font-weight="bold" font-size="10" fill="#fff" textLength="151" lengthAdjust="spacingAndGlyphs">SUN RV COMMUNITIES™</text>
<rect x="1368" y="203" width="162" height="1.5" fill="#f5b921"/>
<text x="1449" y="256" font-family="Liberation Sans,sans-serif" font-size="13" fill="#fff" text-anchor="middle">1500 S. Apache Road,</text>
<text x="1449" y="273" font-family="Liberation Sans,sans-serif" font-size="13" fill="#fff" text-anchor="middle">Buckeye, AZ 85326</text>
<text x="1449" y="289" font-family="Liberation Sans,sans-serif" font-size="13" font-weight="bold" fill="#fff" text-anchor="middle">leafverdesunrvc.com</text>
</svg>
</body></html>
